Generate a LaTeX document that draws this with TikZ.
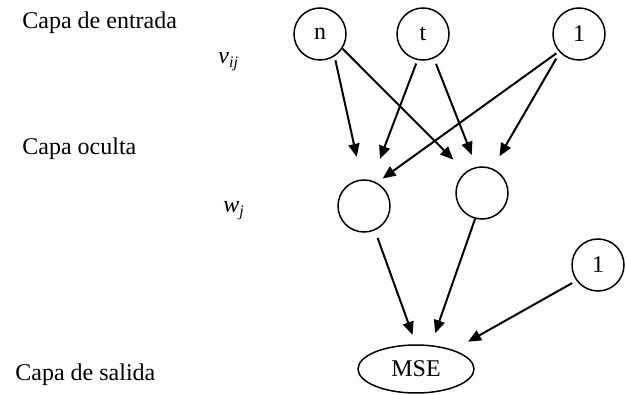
\documentclass[tikz,border=0pt]{standalone}
\usepackage{fontspec}
\setmainfont{Liberation Serif}
\usepackage{tikz}
\usetikzlibrary{arrows.meta,shapes.geometric}

\tikzset{
  neuron/.style={circle, draw, line width=0.75pt, minimum size=26pt, inner sep=0pt},
  conn/.style={line width=1pt, -{Triangle[length=6.5pt,width=5.5pt]}},
  lbl/.style={anchor=base west, inner sep=0pt}
}

\begin{document}
\begin{tikzpicture}[x=0.5pt, y=-0.5pt, font=\fontsize{12}{14}\selectfont]
\useasboundingbox (0,0) rectangle (627,395);
% layer names
\node [lbl] (entrada) at (22,29) {Capa de entrada};
\node [lbl] (oculta) at (22,155) {Capa oculta};
\node [lbl] (salida) at (15,380) {Capa de salida};
\node [lbl] (vij) at (218,64) {\itshape v\textsubscript{ij}};
\node [lbl] (wj) at (223,213) {\itshape w\textsubscript{j}};
% neurons
\node [neuron] (n) at (320,34) {n};
\node [neuron] (t) at (423,34) {t};
\node [neuron] (b1) at (579,34) {1};
\node [neuron] (h1) at (364,206) {};
\node [neuron] (h2) at (482,193) {};
\node [neuron] (b2) at (598,265) {1};
\node [ellipse, draw, line width=0.75pt, minimum width=58pt, minimum height=24pt, inner sep=0pt] (mse) at (416,369) {MSE};
% weights v_ij
\draw [conn, shorten <=2pt, shorten >=11.5pt] (n.-57) -- (h1.95);
\draw [conn, shorten >=8.7pt] (n.-33) -- (h2.128);
\draw [conn, shorten <=1.8pt, shorten >=11.5pt] (t.-102) -- (h1.73);
\draw [conn, shorten <=2.9pt, shorten >=6.4pt] (t.-66) -- (h2.102);
\draw [conn, shorten <=1.5pt, shorten >=3.5pt] (b1.-139) -- (h1.61);
\draw [conn, shorten <=3.5pt, shorten >=7pt] (b1.-136) -- (h2.67);
% weights w_j
\draw [conn, shorten <=4pt, shorten >=5pt] (h1.-66) -- (mse.north);
\draw [conn, shorten >=6.3pt] (h2.-105) -- (mse.58);
\draw [conn, shorten <=2.4pt, shorten >=8.4pt] (b2.-144) -- (mse.27);
\end{tikzpicture}
\end{document}
